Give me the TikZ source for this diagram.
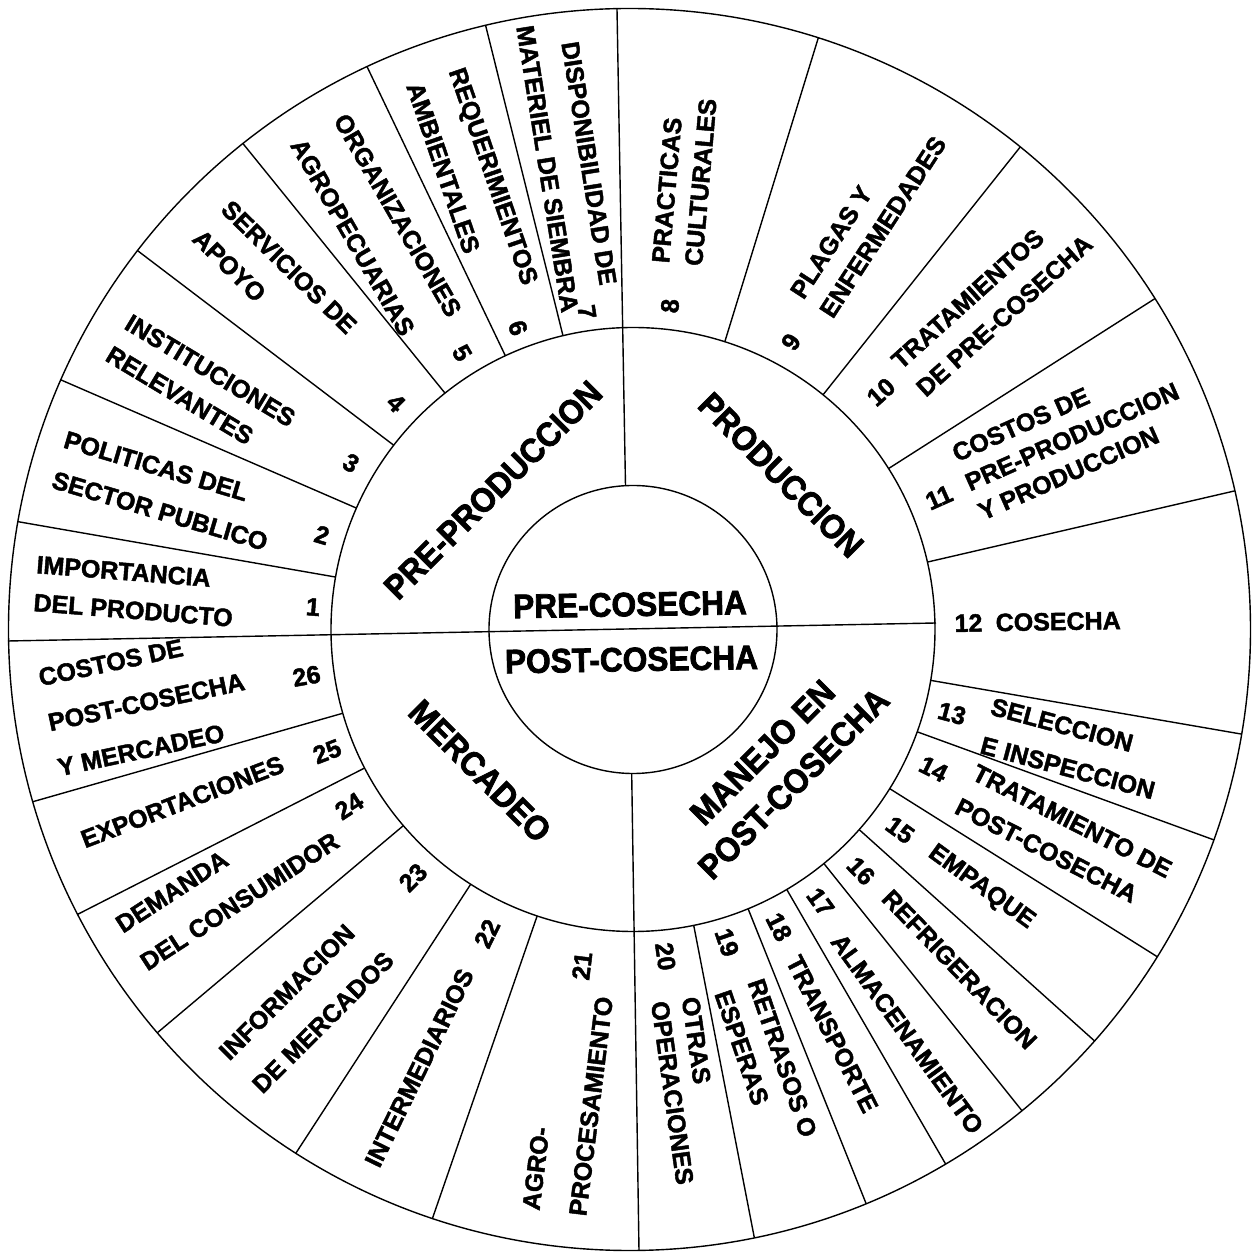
\documentclass[tikz,border=0pt]{standalone}
\usepackage{fontspec}
\setmainfont{Liberation Sans}
\newfontfamily\segface{Liberation Sans}[FakeBold=1.8]
\newfontfamily\hubface{Liberation Sans}[FakeStretch=0.93, FakeBold=2.2]
\newcommand\segfont[1]{\segface\bfseries\fontsize{25}{#1}\selectfont}
\newcommand\hubfont{\hubface\bfseries\fontsize{34}{44}\selectfont}
% one labelled sector of the outer ring: name, x, y, angle, line skip, text
\newcommand\segtext[6]{\node[seg, rotate=#4, font=\segfont{#5}] (#1) at ([shift={(#4:-7)}]#2,#3) {#6};}
\newcommand\segnum[5]{\node[num, rotate=#4] (#1) at (#2,#3) {#5};}

\begin{document}
\begin{tikzpicture}[x=1pt, y=1pt, line width=1.4pt,
  seg/.style={inner sep=0pt, anchor=west, align=left},
  num/.style={inner sep=0pt, font=\segfont{30}},
  hub/.style={inner sep=0pt, font=\hubfont, align=center}]
\useasboundingbox (-630.5,-622.5) rectangle (625.5,629.5);

% rings
\draw (-1,0) circle (621);
\draw (2.5,0) circle (302);
\draw (2.5,0) circle (144);

% quadrant dividers
\draw (-622.5,-11.5) -- (305.5,6.5);
\draw (-5,143.8) -- (-13.5,620.8);
\draw (1.2,-144) -- (8.5,-620.8);

% sector dividers of the outer ring
\foreach \a in {170,156.3,142.4,128.5,115,103.4,72.3,51,32.2,12.9,-9.7,-19.8,-31.8,-41.5,-50.8,-59.4,-67.6,-78.4,-108.5,-122.5,-139.5,-152.7,-163.9}
  \draw ([shift={(2.5,0)}]\a:302) -- ([shift={(-1,0)}]\a:621);

% centre
\node[hub] (pre) at (-0.5,25) [rotate=1] {PRE-COSECHA};
\node[hub] (post) at (1,-30) [rotate=1] {POST-COSECHA};

% middle ring
\node[hub, rotate=45] (preprod) at (-137.5,139.5) {PRE-PRODUCCION};
\node[hub, rotate=-45] (prod) at (150.5,154.5) {PRODUCCION};
\node[hub, rotate=45] (manejo) at (147.5,-138.5) {MANEJO EN\\POST-COSECHA};
\node[hub, rotate=-45] (merc) at (-150.5,-141.5) {MERCADEO};

% outer ring
\segtext{s1}{-589}{45.5}{-4.5}{38}{IMPORTANCIA\\DEL PRODUCTO}
\segnum{n1}{-317.5}{22.5}{-4.5}{1}
\segtext{s2}{-565.5}{168.5}{-16.5}{42}{POLITICAS DEL\\SECTOR PUBLICO}
\segnum{n2}{-308.5}{94.5}{-16.5}{2}
\segtext{s3}{-507}{289.5}{-31}{37}{INSTITUCIONES\\RELEVANTES}
\segnum{n3}{-279.5}{166.5}{-31}{3}
\segtext{s4}{-414.5}{405.5}{-44.5}{41}{SERVICIOS DE\\APOYO}
\segnum{n4}{-234.5}{226.5}{-44.5}{4}
\segtext{s5}{-308.5}{495.5}{-60}{50}{ORGANIZACIONES\\AGROPECUARIAS}
\segnum{n5}{-168.5}{276.5}{-60}{5}
\segtext{s6}{-193}{547.5}{-71}{45}{REQUERIMIENTOS\\AMBIENTALES}
\segnum{n6}{-112.5}{301.5}{-71}{6}
\segtext{s7}{-84}{600.8}{-81}{42}{\hspace*{23pt}DISPONIBILIDAD DE\\MATERIEL DE SIEMBRA}
\segnum{n7}{-43.5}{317.5}{-81}{7}
\segtext{s8}{47}{371.5}{85}{33}{PRACTICAS\\CULTURALES}
\segnum{n8}{39.5}{323.5}{85}{8}
\segtext{s9}{184}{329.5}{57}{35}{PLAGAS Y\\ENFERMEDADES}
\segnum{n9}{160.5}{287.5}{57}{9}
\segtext{s10}{282}{256}{42}{37}{TRATAMIENTOS\\DE PRE-COSECHA}
\segnum{n10}{250.5}{237.5}{42}{10}
\segtext{s11}{342}{148.5}{24}{32}{COSTOS DE\\PRE-PRODUCCION\\Y PRODUCCION}
\segnum{n11}{308.5}{132}{24}{11}
\segtext{s12}{371.5}{7}{1}{30}{COSECHA}
\segnum{n12}{338}{6.5}{1}{12}
\segtext{s13}{362}{-97.5}{-15}{40}{SELECCION\\E INSPECCION}
\segnum{n13}{321.5}{-84}{-15}{13}
\segtext{s14}{341}{-161.5}{-27}{38}{TRATAMIENTO DE\\POST-COSECHA}
\segnum{n14}{303}{-139.5}{-27}{14}
\segtext{s15}{305.5}{-225}{-36}{30}{EMPAQUE}
\segnum{n15}{269.5}{-200.5}{-36}{15}
\segtext{s16}{260.5}{-269}{-46}{30}{REFRIGERACION}
\segnum{n16}{230.5}{-241.5}{-46}{16}
\segtext{s17}{210}{-312.5}{-54}{30}{ALMACENAMIENTO}
\segnum{n17}{190}{-272.5}{-54}{17}
\segtext{s18}{165.5}{-333.5}{-63}{30}{TRANSPORTE}
\segnum{n18}{148.5}{-297.5}{-63}{18}
\segtext{s19}{110.5}{-362}{-71}{35}{RETRASOS O\\ESPERAS}
\segnum{n19}{96.5}{-313}{-71}{19}
\segtext{s20}{45.25}{-376}{-82}{31}{OTRAS\\OPERACIONES}
\segnum{n20}{35}{-327}{-82}{20}
\segtext{s21}{-75.5}{-577}{83}{47}{AGRO-\\PROCESAMIENTO}
\segnum{n21}{-48.5}{-336.5}{83}{21}
\segtext{s22}{-256}{-530}{64}{30}{INTERMEDIARIOS}
\segnum{n22}{-143.5}{-304}{64}{22}
\segtext{s23}{-386}{-438}{45}{47}{INFORMACION\\DE MERCADOS}
\segnum{n23}{-217.5}{-248}{45}{23}
\segtext{s24}{-494.5}{-312.5}{33}{45}{DEMANDA\\DEL CONSUMIDOR}
\segnum{n24}{-281.5}{-176.5}{33}{24}
\segtext{s25}{-542.5}{-208.5}{21}{30}{EXPORTACIONES}
\segnum{n25}{-303.5}{-122}{21}{25}
\segtext{s26}{-575.75}{-92}{12}{46}{COSTOS DE\\POST-COSECHA\\Y MERCADEO}
\segnum{n26}{-324}{-46.5}{10}{26}
\end{tikzpicture}
\end{document}
